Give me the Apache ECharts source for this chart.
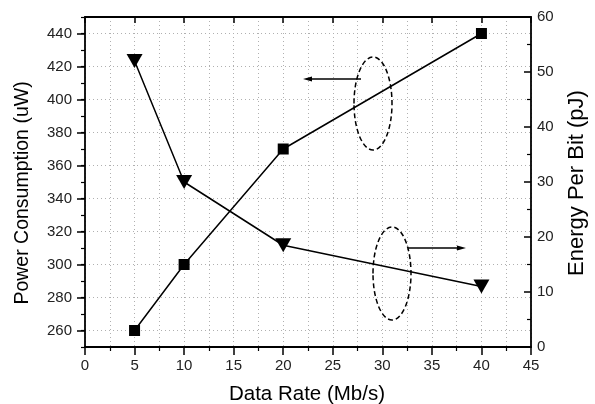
<!DOCTYPE html>
<html><head><meta charset="utf-8">
<script src="https://cdn.jsdelivr.net/npm/echarts@6/dist/echarts.min.js"></script>
<style>html,body{margin:0;padding:0;background:#fff}#c{width:595px;height:404px}</style>
</head><body><div id="c"></div>
<script>
const dataRate = [5, 10, 20, 40];
const power = [260, 300, 370, 440];
const energy = [52, 30, 18.5, 11];
const leftTicks = [260, 280, 300, 320, 340, 360, 380, 400, 420, 440];
const rightTicks = [0, 10, 20, 30, 40, 50, 60];
const xTicks = [0, 5, 10, 15, 20, 25, 30, 35, 40, 45];

const FONT = "'Liberation Sans', Arial, sans-serif";
const chart = echarts.init(document.getElementById('c'), null, {renderer: 'canvas'});
const axisLine = {show: true, onZero: false, lineStyle: {color: '#000', width: 1.8}};
const grid = {color: '#b0b0b0', width: 1, type: [1, 3]};
const lbl = {color: '#222', fontSize: 15, fontFamily: FONT};

chart.setOption({
  animation: false,
  backgroundColor: '#fff',
  grid: {left: 85, right: 64, top: 17, bottom: 57},
  xAxis: [
    {type: 'value', position: 'bottom', min: xTicks[0], max: xTicks[xTicks.length-1], interval: 5,
     axisLine, axisTick: {show: true, inside: false, length: 8, lineStyle: {color: '#000', width: 1.5}},
     minorTick: {show: true, splitNumber: 2, length: 4, lineStyle: {color: '#000', width: 1.2}},
     splitLine: {show: true, lineStyle: grid},
     minorSplitLine: {show: true, lineStyle: grid},
     axisLabel: Object.assign({margin: 11}, lbl)},
    {type: 'value', position: 'top', min: xTicks[0], max: xTicks[xTicks.length-1], interval: 5,
     axisLine, axisTick: {show: true, inside: true, length: 6, lineStyle: {color: '#000', width: 1.5}},
     axisLabel: {show: false}, splitLine: {show: false}}
  ],
  yAxis: [
    {type: 'value', position: 'left', min: 250, max: 450, interval: 20,
     axisLine,
     axisTick: {show: true, inside: false, length: 8, customValues: leftTicks, lineStyle: {color: '#000', width: 1.5}},
     axisLabel: Object.assign({margin: 13, customValues: leftTicks}, lbl),
     splitLine: {show: true, lineStyle: grid}},
    {type: 'value', position: 'right', min: rightTicks[0], max: rightTicks[rightTicks.length-1], interval: 10,
     axisLine,
     axisTick: {show: true, inside: true, length: 7, lineStyle: {color: '#000', width: 1.5}},
     minorTick: {show: true, splitNumber: 2, length: 4, lineStyle: {color: '#000', width: 1.2}},
     axisLabel: Object.assign({margin: 6}, lbl),
     splitLine: {show: false}},
    {type: 'value', position: 'left', min: 250, max: 450, interval: 10,
     axisLine: {show: false},
     axisTick: {show: true, inside: false, length: 4, lineStyle: {color: '#000', width: 1.2}},
     axisLabel: {show: false}, splitLine: {show: false}}
  ],
  series: [
    {type: 'line', name: 'Power', xAxisIndex: 0, yAxisIndex: 0,
     data: dataRate.map((x, i) => [x, power[i]]),
     symbol: 'rect', symbolSize: 11, itemStyle: {color: '#000'},
     lineStyle: {color: '#000', width: 1.5}, z: 5},
    {type: 'line', name: 'Energy', xAxisIndex: 0, yAxisIndex: 1,
     data: dataRate.map((x, i) => [x, energy[i]]),
     symbol: 'triangle', symbolRotate: 180, symbolSize: [16, 14], itemStyle: {color: '#000'},
     lineStyle: {color: '#000', width: 1.5}, z: 5}
  ],
  graphic: [
    {type: 'ellipse', shape: {cx: 373, cy: 103.5, rx: 19, ry: 46.5}, z: 10,
     style: {fill: 'none', stroke: '#000', lineWidth: 1.5, lineDash: [5, 3]}},
    {type: 'line', shape: {x1: 361, y1: 79, x2: 308, y2: 79}, z: 10, style: {stroke: '#000', lineWidth: 1.5}},
    {type: 'polygon', shape: {points: [[303, 79], [312, 76.5], [312, 81.5]]}, z: 10, style: {fill: '#000'}},
    {type: 'ellipse', shape: {cx: 392, cy: 273.5, rx: 19, ry: 46.5}, z: 10,
     style: {fill: 'none', stroke: '#000', lineWidth: 1.5, lineDash: [5, 3]}},
    {type: 'line', shape: {x1: 408, y1: 248, x2: 461, y2: 248}, z: 10, style: {stroke: '#000', lineWidth: 1.5}},
    {type: 'polygon', shape: {points: [[466, 248], [457, 245.5], [457, 250.5]]}, z: 10, style: {fill: '#000'}},
    {type: 'text', x: 23, y: 193, rotation: Math.PI / 2, z: 10,
     style: {text: 'Power Consumption (uW)', fontSize: 19.5, fontFamily: FONT, fill: '#000', align: 'center', verticalAlign: 'middle'}},
    {type: 'text', x: 577, y: 183, rotation: Math.PI / 2, z: 10,
     style: {text: 'Energy Per Bit (pJ)', fontSize: 22, fontFamily: FONT, fill: '#000', align: 'center', verticalAlign: 'middle'}},
    {type: 'text', x: 307, y: 394, z: 10,
     style: {text: 'Data Rate (Mb/s)', fontSize: 20.5, fontFamily: FONT, fill: '#000', align: 'center', verticalAlign: 'middle'}}
  ]
});
</script>
</body></html>
